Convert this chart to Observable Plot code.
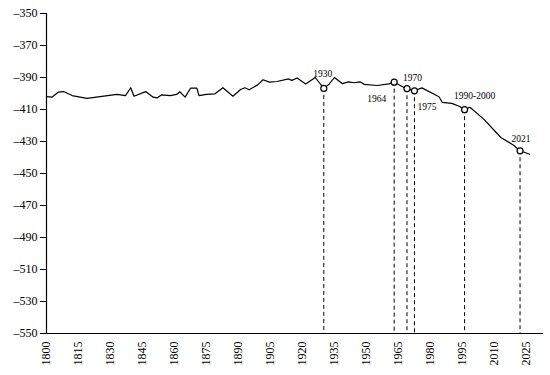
<!DOCTYPE html>
<html>
<head>
<meta charset="utf-8">
<script src="https://cdn.jsdelivr.net/npm/d3@7"></script>
<script src="https://cdn.jsdelivr.net/npm/@observablehq/plot@0.6"></script>
<style>
  html, body { margin: 0; padding: 0; background: #fff; }
</style>
</head>
<body>
<div id="chart"></div>
<script>
// Line series (year, value)
const years = [1800, 1802.5, 1805.5, 1808, 1812, 1819, 1833, 1837, 1839.5, 1841, 1846.5, 1850, 1852, 1854, 1858, 1861, 1862.5, 1865, 1867.5, 1870.5, 1871.5, 1875, 1879, 1882.7, 1887.4, 1891, 1893, 1895, 1899, 1901.5, 1904.5, 1908, 1913.5, 1915, 1917.5, 1921.5, 1926, 1930, 1932.5, 1935, 1938.6, 1941.7, 1944, 1947, 1949, 1955, 1960.5, 1963, 1966.5, 1969, 1972.5, 1976, 1984, 1985.5, 1990, 1993.5, 1996, 1998.5, 2005, 2013, 2019, 2022, 2026.5];
const values = [-402, -402.3, -399.2, -398.8, -401.3, -403, -400.6, -401.3, -396.4, -401.7, -398.8, -402.3, -402.7, -400.8, -401.3, -400.6, -398.9, -402.3, -396.7, -396.7, -401.3, -400.6, -400.2, -396.4, -401.7, -397.5, -396.4, -397.7, -394.6, -391.4, -392.9, -392.5, -390.9, -391.8, -390.3, -394, -390, -396.8, -394.2, -390, -393.8, -392.7, -393.3, -392.7, -394.3, -395, -394, -392.9, -395.5, -397, -398.3, -396.5, -402, -405.5, -406.2, -408, -410.1, -408.6, -416, -427.5, -432.3, -435.8, -438];

// Highlighted points
const markerYears = [1930, 1963, 1969, 1972.5, 1996, 2022];
const markerValues = [-396.8, -392.9, -397, -398.3, -410.1, -435.8];
const markerLabels = ["1930", "1964", "1970", "1975", "1990-2000", "2021"];

// Axis ticks
const xTicks = [1800, 1815, 1830, 1845, 1860, 1875, 1890, 1905, 1920, 1935, 1950, 1965, 1980, 1995, 2010, 2025];
const yTicks = [-350, -370, -390, -410, -430, -450, -470, -490, -510, -530, -550];

const series = years.map((y, i) => ({year: y, value: values[i]}));
const markers = markerYears.map((y, i) => ({year: y, value: markerValues[i], label: markerLabels[i]}));

// label placement (layout only)
const labelLayout = [
  {anchor: "middle", dx: -1, dy: -14},
  {anchor: "end", dx: -8, dy: 17},
  {anchor: "start", dx: -4, dy: -11},
  {anchor: "start", dx: 3, dy: 16},
  {anchor: "middle", dx: 10, dy: -14},
  {anchor: "middle", dx: 1, dy: -12}
];

const fontFamily = "'Liberation Serif', 'DejaVu Serif', serif";

const labelMarks = markers.map((m, i) => Plot.text([m], {
  x: "year", y: "value", text: "label",
  textAnchor: labelLayout[i].anchor,
  dx: labelLayout[i].dx, dy: labelLayout[i].dy,
  fontSize: 9.5, fill: "#000"
}));

const chart = Plot.plot({
  width: 550,
  height: 375,
  marginLeft: 46,
  marginRight: 7,
  marginTop: 13,
  marginBottom: 42,
  style: {fontFamily, fontSize: "12px", background: "#fff", color: "#000"},
  x: {domain: [1800, 2033], label: null},
  y: {domain: [-550, -350], label: null},
  marks: [
    Plot.axisY({ticks: yTicks, tickSize: 6, tickPadding: 3, label: null, fontSize: 12, tickFormat: d => (d < 0 ? "\u2013" : "") + Math.abs(d)}),
    Plot.axisX({ticks: xTicks, tickSize: 0, tickPadding: 8, tickRotate: -90, label: null, fontSize: 12, tickFormat: "d"}),
    Plot.ruleX(markers, {x: "year", y1: "value", y2: -550, stroke: "#000", strokeWidth: 1, strokeDasharray: "4,3"}),
    Plot.ruleX([1800], {stroke: "#000", strokeWidth: 1.2}),
    Plot.ruleY([-550], {stroke: "#000", strokeWidth: 1.2}),
    Plot.line(series, {x: "year", y: "value", stroke: "#000", strokeWidth: 1.2}),
    Plot.dot(markers, {x: "year", y: "value", r: 3, fill: "#fff", stroke: "#000", strokeWidth: 1.2}),
    ...labelMarks
  ]
});

document.getElementById("chart").appendChild(chart);
</script>
</body>
</html>
